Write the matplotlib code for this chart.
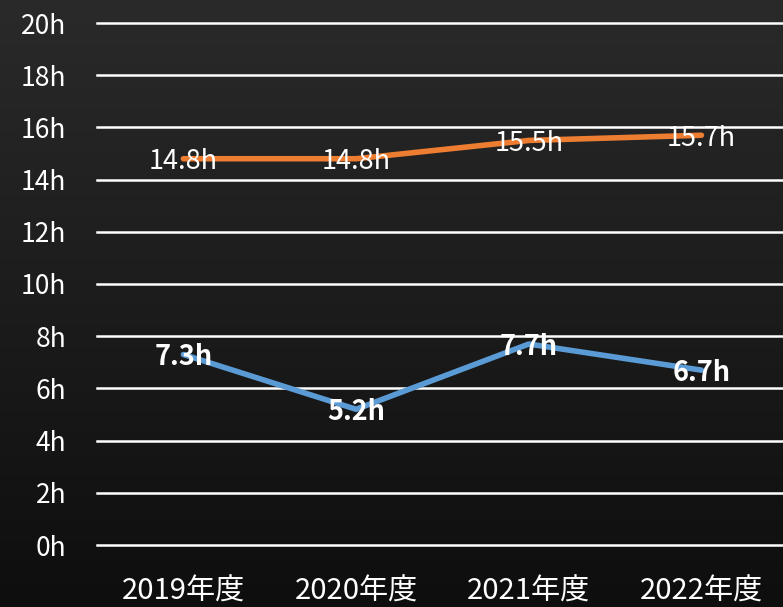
import numpy as np
import matplotlib
matplotlib.use("Agg")
import matplotlib.pyplot as plt

plt.rcParams['font.family'] = ['Noto Sans CJK JP', 'DejaVu Sans']

categories = ["2019年度", "2020年度", "2021年度", "2022年度"]
orange_vals = [14.8, 14.8, 15.5, 15.7]
blue_vals = [7.3, 5.2, 7.7, 6.7]
yticks = [0, 2, 4, 6, 8, 10, 12, 14, 16, 18, 20]
ytick_labels = [f"{v}h" for v in yticks]

W, H = 783, 607
fig = plt.figure(figsize=(W / 100, H / 100), dpi=100)

# gradient background
bg = fig.add_axes([0, 0, 1, 1], zorder=0)
grad = np.linspace(0, 1, 256).reshape(-1, 1)
top = np.array([0x2a, 0x2a, 0x2a]) / 255
bot = np.array([0x0e, 0x0e, 0x0e]) / 255
img = top + (bot - top) * grad[..., None]
img = np.repeat(img, 2, axis=1)
bg.imshow(img, aspect='auto', extent=[0, 1, 0, 1])
bg.set_axis_off()

left = 97 / W
right_px = 97 + 4 * 172.7
ax = fig.add_axes([left, 62 / H, (right_px - 97) / W, 522 / H], zorder=1)
ax.patch.set_alpha(0)

x = np.arange(len(categories))
ax.set_xlim(-0.5, len(categories) - 0.5)
ax.set_ylim(0, 20)

for y in yticks:
    ax.axhline(y, color='white', lw=1.8, zorder=1, clip_on=False)

ax.plot(x, orange_vals, color='#ED7D31', lw=4, solid_capstyle='round', zorder=3)
ax.plot(x, blue_vals, color='#5B9BD5', lw=4, solid_capstyle='round', zorder=3)

for xi, v in zip(x, orange_vals):
    ax.annotate(f"{v}h", (xi, v), xytext=(0, -2), textcoords='offset points',
                color='white', fontsize=19.5, ha='center', va='center', zorder=4)
for xi, v in zip(x, blue_vals):
    ax.annotate(f"{v}h", (xi, v), xytext=(0, -2), textcoords='offset points',
                color='white', fontsize=19.5, fontweight='bold', ha='center', va='center', zorder=4)

ax.set_xticks(x)
ax.set_xticklabels(categories, color='white', fontsize=21)
ax.set_yticks(yticks)
ax.set_yticklabels(ytick_labels, color='white', fontsize=19)
ax.tick_params(length=0)
ax.tick_params(axis='y', pad=22)
ax.tick_params(axis='x', pad=23)
for s in ax.spines.values():
    s.set_visible(False)

fig.savefig("out.png", dpi=100)
